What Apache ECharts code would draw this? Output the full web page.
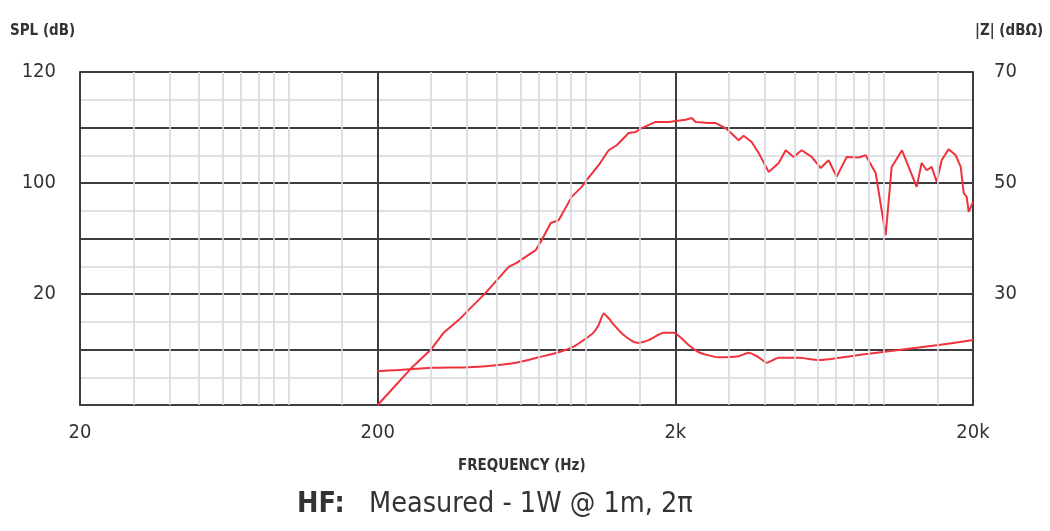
<!DOCTYPE html>
<html>
<head>
<meta charset="utf-8">
<script src="https://cdn.jsdelivr.net/npm/echarts@6/dist/echarts.min.js"></script>
<style>
html,body{margin:0;padding:0;background:#fff;}
#c{width:1050px;height:531px;}
</style>
</head>
<body>
<div id="c"></div>
<script>
// ---- data ----
var splFreq = [200,260,301,333,374,461,551,586,679,711,763,811,897,969,1007,1105,1194,1271,1394,1471,1541,1718,1899,2166,2270,2341,2588,2732,2952,3264,3393,3610,3811,4117,4449,4696,4995,5315,5743,6156,6547,6966,7527,8260,8718,9419,10178,10662,11550,12936,13446,13977,14528,15101,15697,16571,17497,18186,18610,19048,19343,20000];
var splDb   = [60.0,66.7,69.9,73.0,75.3,80.2,84.9,85.6,87.9,89.7,92.8,93.3,97.5,99.3,100.5,103.2,105.9,106.8,109.0,109.2,109.9,111.0,111.0,111.4,111.7,111.0,110.8,110.8,109.9,107.7,108.5,107.4,105.4,102.0,103.6,105.9,104.7,105.9,104.7,102.7,104.1,101.1,104.7,104.6,105.0,101.8,90.6,102.9,105.9,99.3,103.6,102.3,102.9,100.2,104.1,106.1,105.0,102.9,98.2,97.5,94.8,96.6];
var zFreq = [200,235,304,404,510,595,695,811,911,984,1060,1105,1149,1195,1241,1341,1483,1627,1828,1974,2100,2217,2396,2797,3264,3528,3811,4054,4449,5194,6062,8260,11255,15336,20000];
var zDb   = [16.1,16.3,16.7,16.8,17.2,17.7,18.6,19.5,20.5,21.7,23.0,24.4,26.5,25.6,24.5,22.6,21.2,21.7,23.0,23.0,22.0,20.8,19.5,18.6,18.8,19.4,18.6,17.6,18.5,18.5,18.1,19.0,19.9,20.8,21.7];
var xTickLabels = ['20','200','2k','20k'];
var leftTickLabels = {120:'120',100:'100',80:'20'};
var rightTickLabels = {70:'70',50:'50',30:'30'};
var minorFreqs = [30,40,50,60,70,80,90,100,150];

var F = '"Liberation Sans Narrow","DejaVu Sans Condensed","Liberation Sans",sans-serif';
var DARK = '#3d3d3d', LIGHT = '#d5d9dd', RED = '#f0323c', TXT = '#333';
function lx(f){ return Math.log10(f/20); }

var minorLines = [];
[1,10,100].forEach(function(m){
  minorFreqs.forEach(function(f){ minorLines.push({xAxis: lx(f*m)}); });
});

var chart = echarts.init(document.getElementById('c'));
chart.setOption({
  animation:false,
  backgroundColor:'#fff',
  grid:{left:80,right:77,top:72,bottom:126},
  xAxis:{type:'value',min:0,max:3,interval:1,
    axisLine:{show:true,onZero:false,lineStyle:{color:DARK,width:2}},
    axisTick:{show:false},
    splitLine:{show:true,lineStyle:{color:DARK,width:2}},
    axisLabel:{margin:18,fontFamily:F,fontSize:20,color:TXT,
      formatter:function(v){return xTickLabels[Math.round(v)]||'';}}
  },
  yAxis:[
    {type:'value',min:60,max:120,interval:10,
      axisLine:{show:true,lineStyle:{color:DARK,width:2}},
      axisTick:{show:false},
      splitLine:{show:true,lineStyle:{color:DARK,width:2}},
      minorTick:{show:false,splitNumber:2},
      minorSplitLine:{show:true,lineStyle:{color:LIGHT,width:1.6}},
      axisLabel:{margin:24,fontFamily:F,fontSize:20,color:TXT,
        formatter:function(v){return leftTickLabels[v]||'';}}
    },
    {type:'value',min:10,max:70,interval:10,position:'right',
      axisLine:{show:true,lineStyle:{color:DARK,width:2}},
      axisTick:{show:false},
      splitLine:{show:false},
      axisLabel:{margin:21,fontFamily:F,fontSize:20,color:TXT,
        formatter:function(v){return rightTickLabels[v]||'';}}
    }
  ],
  series:[
    {type:'line',data:[],z:-1,silent:true,
      markLine:{silent:true,symbol:['none','none'],label:{show:false},
        lineStyle:{color:LIGHT,width:1.6,type:'solid'},
        emphasis:{disabled:true},
        data:minorLines}},
    {type:'line',yAxisIndex:0,showSymbol:false,smooth:false,
      lineStyle:{color:RED,width:2},
      data:splFreq.map(function(f,i){return [lx(f),splDb[i]];})},
    {type:'line',yAxisIndex:1,showSymbol:false,smooth:0.2,
      lineStyle:{color:RED,width:2},
      data:zFreq.map(function(f,i){return [lx(f),zDb[i]];})}
  ],
  graphic:[
    {type:'text',left:10,top:24,style:{text:'SPL (dB)',fontFamily:F,fontWeight:'bold',fontSize:15,fill:TXT}},
    {type:'text',left:975,top:24,style:{text:'|Z| (dBΩ)',fontFamily:F,fontWeight:'bold',fontSize:15,fill:TXT}},
    {type:'text',left:458,top:459,style:{text:'FREQUENCY (Hz)',fontFamily:F,fontWeight:'bold',fontSize:15,fill:TXT}},
    {type:'text',left:297,top:490,style:{
      rich:{a:{fontFamily:F,fontWeight:'bold',fontSize:28.5,fill:TXT},b:{fontFamily:F,fontSize:28.5,fill:TXT}},
      text:'{a|HF:}{b|   Measured - 1W @ 1m, 2π}'}}
  ]
});
</script>
</body>
</html>
